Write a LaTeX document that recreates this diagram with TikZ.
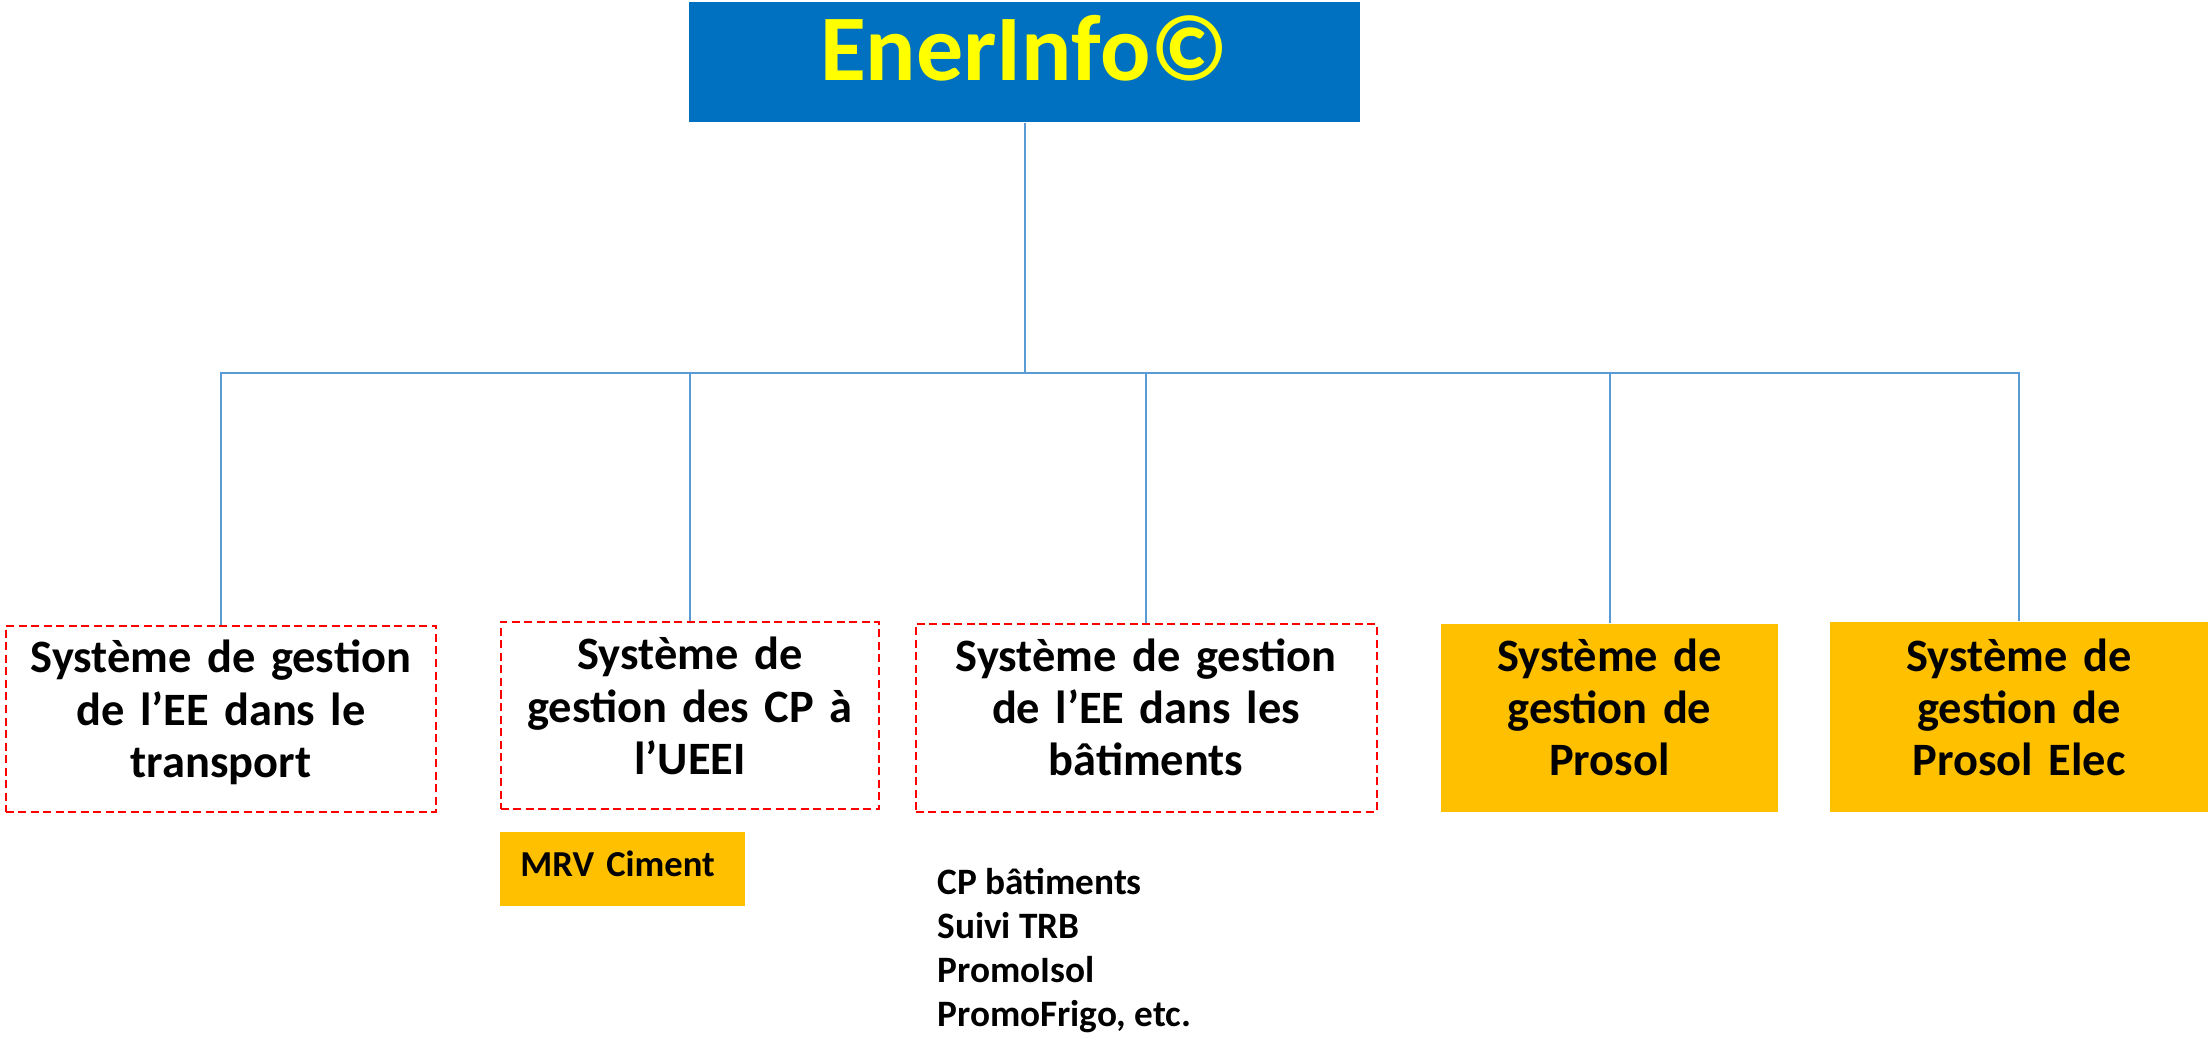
\documentclass[tikz,border=0pt]{standalone}
\usepackage{fontspec}
\setmainfont{Carlito}
\usepackage{tikz}
\usepackage{xcolor}
\definecolor{enerblue}{HTML}{0070C0}
\definecolor{eneryellow}{HTML}{FFFF00}
\definecolor{gold}{HTML}{FFC000}
\definecolor{linkblue}{HTML}{5B9BD5}

\begin{document}
\begin{tikzpicture}[x=0.01cm,y=-0.01cm,
  sysbox/.style={draw=red,line width=0.02cm,dash pattern=on 0.08cm off 0.045cm,
    inner xsep=0.1cm,inner ysep=0pt,align=center,
    font=\bfseries\fontsize{13.2}{14.8}\selectfont},
  goldbox/.style={fill=gold,inner xsep=0.1cm,inner ysep=0pt,align=center,
    font=\bfseries\fontsize{13.2}{14.8}\selectfont},
  link/.style={draw=linkblue,line width=0.02cm}]
  \pgfmathsetmacro{\busy}{373}
  \useasboundingbox (0,0) rectangle (2209,1038);

  \node[fill=enerblue,text=eneryellow,inner sep=0pt,minimum width=6.71cm,minimum height=1.2cm,
    text height=0.787cm,text depth=0.413cm,font=\bfseries\fontsize{26.7}{30}\selectfont]
    (ener) at (1024.5,62) {EnerInfo©};

  \node[sysbox,text width=4.10cm,minimum height=1.86cm,text height=0.47cm,text depth=1.39cm]
    (transport) at (221,719) {Système de gestion\\de l’EE dans le\\transport};
  \node[sysbox,text width=3.585cm,minimum height=1.87cm,text height=0.48cm,text depth=1.39cm]
    (ueei) at (690,715.5) {Système de\\gestion des CP à\\l’UEEI};
  \node[sysbox,text width=4.407cm,minimum height=1.88cm,text height=0.477cm,text depth=1.403cm]
    (batiments) at (1146,718) {Système de gestion\\de l’EE dans les\\bâtiments};
  \node[goldbox,text width=3.17cm,minimum height=1.877cm,text height=0.477cm,text depth=1.40cm]
    (prosol) at (1609.5,717.9) {Système de\\gestion de\\Prosol};
  \node[goldbox,text width=3.58cm,minimum height=1.897cm,text height=0.497cm,text depth=1.40cm]
    (prosolelec) at (2019,716.9) {Système de\\gestion de\\Prosol Elec};

  \node[fill=gold,inner xsep=0.2cm,inner ysep=0pt,minimum height=0.737cm,text width=2.04cm,
    align=left,text height=0.225cm,text depth=0.068cm,font=\bfseries\fontsize{10.4}{12}\selectfont]
    (mrv) at (622.5,868.9) {MRV Ciment};

  \foreach \t [count=\k] [evaluate=\k as \y using 894+(\k-1)*44.3]
    in {CP bâtiments,Suivi TRB,PromoIsol,{PromoFrigo, etc.}}
  {
    \node[anchor=base west,inner sep=0pt,font=\bfseries\fontsize{10.6}{12}\selectfont]
      (list\k) at (936.7,\y) {\t};
  }

  \coordinate (bus) at (ener.south |- 0,\busy);
  \draw[link] (ener.south) -- (bus);
  \foreach \n in {transport,ueei,batiments,prosol,prosolelec}
    \draw[link] (bus) -| (\n.north);
\end{tikzpicture}
\end{document}
